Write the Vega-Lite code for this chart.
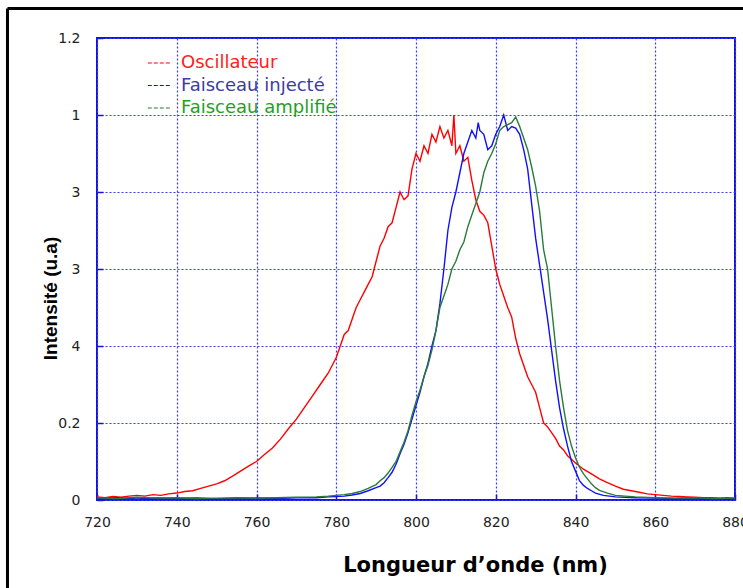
{
  "$schema": "https://vega.github.io/schema/vega-lite/v6.json",
  "width": 638,
  "height": 462,
  "autosize": {"type": "none"},
  "padding": {"left": 97, "top": 38, "right": 8, "bottom": 88},
  "background": "#ffffff",
  "config": {
    "view": {"stroke": "#1414d8", "strokeWidth": 2},
    "font": "Liberation Sans"
  },
  "datasets": {
    "frame": [
      {"x": 697.55, "x2": 697.55, "y": 1.2766, "y2": -0.3},
      {"x": 697.55, "x2": 890, "y": 1.2766, "y2": 1.2766}
    ]
  },
  "layer": [
    {
      "data": {"values": [
        {"s":"Oscillateur","x":720,"y":0.008},{"s":"Oscillateur","x":722,"y":0.006},{"s":"Oscillateur","x":724,"y":0.009},{"s":"Oscillateur","x":726,"y":0.007},{"s":"Oscillateur","x":728,"y":0.01},{"s":"Oscillateur","x":730,"y":0.012},{"s":"Oscillateur","x":732,"y":0.01},{"s":"Oscillateur","x":734,"y":0.014},{"s":"Oscillateur","x":736,"y":0.012},{"s":"Oscillateur","x":738,"y":0.016},{"s":"Oscillateur","x":740,"y":0.018},{"s":"Oscillateur","x":742,"y":0.022},{"s":"Oscillateur","x":744,"y":0.024},{"s":"Oscillateur","x":746,"y":0.03},{"s":"Oscillateur","x":748,"y":0.036},{"s":"Oscillateur","x":750,"y":0.042},{"s":"Oscillateur","x":752,"y":0.05},{"s":"Oscillateur","x":754,"y":0.062},{"s":"Oscillateur","x":756,"y":0.075},{"s":"Oscillateur","x":758,"y":0.088},{"s":"Oscillateur","x":760,"y":0.1},{"s":"Oscillateur","x":762,"y":0.118},{"s":"Oscillateur","x":764,"y":0.135},{"s":"Oscillateur","x":766,"y":0.158},{"s":"Oscillateur","x":768,"y":0.185},{"s":"Oscillateur","x":770,"y":0.21},{"s":"Oscillateur","x":772,"y":0.24},{"s":"Oscillateur","x":774,"y":0.27},{"s":"Oscillateur","x":776,"y":0.3},{"s":"Oscillateur","x":778,"y":0.33},{"s":"Oscillateur","x":780,"y":0.37},{"s":"Oscillateur","x":781,"y":0.4},{"s":"Oscillateur","x":782,"y":0.43},{"s":"Oscillateur","x":783,"y":0.44},{"s":"Oscillateur","x":784,"y":0.47},{"s":"Oscillateur","x":785,"y":0.5},{"s":"Oscillateur","x":786,"y":0.52},{"s":"Oscillateur","x":787,"y":0.54},{"s":"Oscillateur","x":788,"y":0.56},{"s":"Oscillateur","x":789,"y":0.58},{"s":"Oscillateur","x":790,"y":0.62},{"s":"Oscillateur","x":791,"y":0.66},{"s":"Oscillateur","x":792,"y":0.68},{"s":"Oscillateur","x":793,"y":0.71},{"s":"Oscillateur","x":794,"y":0.72},{"s":"Oscillateur","x":795,"y":0.76},{"s":"Oscillateur","x":796,"y":0.8},{"s":"Oscillateur","x":797,"y":0.78},{"s":"Oscillateur","x":798,"y":0.79},{"s":"Oscillateur","x":799,"y":0.86},{"s":"Oscillateur","x":800,"y":0.9},{"s":"Oscillateur","x":801,"y":0.88},{"s":"Oscillateur","x":802,"y":0.92},{"s":"Oscillateur","x":803,"y":0.9},{"s":"Oscillateur","x":804,"y":0.95},{"s":"Oscillateur","x":805,"y":0.93},{"s":"Oscillateur","x":806,"y":0.97},{"s":"Oscillateur","x":807,"y":0.94},{"s":"Oscillateur","x":808,"y":0.96},{"s":"Oscillateur","x":809,"y":0.92},{"s":"Oscillateur","x":809.5,"y":1.0},{"s":"Oscillateur","x":810,"y":0.9},{"s":"Oscillateur","x":811,"y":0.92},{"s":"Oscillateur","x":812,"y":0.88},{"s":"Oscillateur","x":813,"y":0.89},{"s":"Oscillateur","x":814,"y":0.83},{"s":"Oscillateur","x":815,"y":0.78},{"s":"Oscillateur","x":816,"y":0.75},{"s":"Oscillateur","x":817,"y":0.74},{"s":"Oscillateur","x":818,"y":0.72},{"s":"Oscillateur","x":819,"y":0.66},{"s":"Oscillateur","x":820,"y":0.6},{"s":"Oscillateur","x":821,"y":0.56},{"s":"Oscillateur","x":822,"y":0.53},{"s":"Oscillateur","x":823,"y":0.5},{"s":"Oscillateur","x":824,"y":0.475},{"s":"Oscillateur","x":825,"y":0.42},{"s":"Oscillateur","x":826,"y":0.38},{"s":"Oscillateur","x":827,"y":0.35},{"s":"Oscillateur","x":828,"y":0.32},{"s":"Oscillateur","x":829,"y":0.3},{"s":"Oscillateur","x":830,"y":0.28},{"s":"Oscillateur","x":831,"y":0.24},{"s":"Oscillateur","x":832,"y":0.2},{"s":"Oscillateur","x":833,"y":0.19},{"s":"Oscillateur","x":834,"y":0.175},{"s":"Oscillateur","x":835,"y":0.16},{"s":"Oscillateur","x":836,"y":0.14},{"s":"Oscillateur","x":837,"y":0.13},{"s":"Oscillateur","x":838,"y":0.115},{"s":"Oscillateur","x":840,"y":0.096},{"s":"Oscillateur","x":842,"y":0.08},{"s":"Oscillateur","x":844,"y":0.068},{"s":"Oscillateur","x":846,"y":0.055},{"s":"Oscillateur","x":848,"y":0.045},{"s":"Oscillateur","x":850,"y":0.036},{"s":"Oscillateur","x":852,"y":0.028},{"s":"Oscillateur","x":854,"y":0.024},{"s":"Oscillateur","x":856,"y":0.02},{"s":"Oscillateur","x":858,"y":0.016},{"s":"Oscillateur","x":860,"y":0.014},{"s":"Oscillateur","x":862,"y":0.012},{"s":"Oscillateur","x":864,"y":0.01},{"s":"Oscillateur","x":866,"y":0.009},{"s":"Oscillateur","x":868,"y":0.008},{"s":"Oscillateur","x":870,"y":0.007},{"s":"Oscillateur","x":872,"y":0.006},{"s":"Oscillateur","x":874,"y":0.006},{"s":"Oscillateur","x":876,"y":0.005},{"s":"Oscillateur","x":878,"y":0.006},{"s":"Oscillateur","x":880,"y":0.005},

        {"s":"Faisceau injecté","x":720,"y":0.004},{"s":"Faisceau injecté","x":725,"y":0.006},{"s":"Faisceau injecté","x":730,"y":0.003},{"s":"Faisceau injecté","x":735,"y":0.005},{"s":"Faisceau injecté","x":740,"y":0.004},{"s":"Faisceau injecté","x":745,"y":0.005},{"s":"Faisceau injecté","x":750,"y":0.003},{"s":"Faisceau injecté","x":755,"y":0.004},{"s":"Faisceau injecté","x":760,"y":0.005},{"s":"Faisceau injecté","x":765,"y":0.004},{"s":"Faisceau injecté","x":770,"y":0.006},{"s":"Faisceau injecté","x":775,"y":0.006},{"s":"Faisceau injecté","x":778,"y":0.008},{"s":"Faisceau injecté","x":780,"y":0.009},{"s":"Faisceau injecté","x":782,"y":0.01},{"s":"Faisceau injecté","x":784,"y":0.013},{"s":"Faisceau injecté","x":786,"y":0.017},{"s":"Faisceau injecté","x":788,"y":0.024},{"s":"Faisceau injecté","x":790,"y":0.032},{"s":"Faisceau injecté","x":791,"y":0.036},{"s":"Faisceau injecté","x":792,"y":0.045},{"s":"Faisceau injecté","x":793,"y":0.058},{"s":"Faisceau injecté","x":794,"y":0.072},{"s":"Faisceau injecté","x":795,"y":0.093},{"s":"Faisceau injecté","x":796,"y":0.12},{"s":"Faisceau injecté","x":797,"y":0.145},{"s":"Faisceau injecté","x":798,"y":0.175},{"s":"Faisceau injecté","x":799,"y":0.21},{"s":"Faisceau injecté","x":800,"y":0.245},{"s":"Faisceau injecté","x":801,"y":0.28},{"s":"Faisceau injecté","x":802,"y":0.32},{"s":"Faisceau injecté","x":803,"y":0.355},{"s":"Faisceau injecté","x":804,"y":0.4},{"s":"Faisceau injecté","x":805,"y":0.44},{"s":"Faisceau injecté","x":806,"y":0.51},{"s":"Faisceau injecté","x":807,"y":0.6},{"s":"Faisceau injecté","x":808,"y":0.7},{"s":"Faisceau injecté","x":809,"y":0.76},{"s":"Faisceau injecté","x":810,"y":0.8},{"s":"Faisceau injecté","x":811,"y":0.85},{"s":"Faisceau injecté","x":812,"y":0.9},{"s":"Faisceau injecté","x":813,"y":0.93},{"s":"Faisceau injecté","x":814,"y":0.96},{"s":"Faisceau injecté","x":815,"y":0.94},{"s":"Faisceau injecté","x":815.6,"y":0.98},{"s":"Faisceau injecté","x":816,"y":0.96},{"s":"Faisceau injecté","x":817,"y":0.95},{"s":"Faisceau injecté","x":818,"y":0.91},{"s":"Faisceau injecté","x":819,"y":0.92},{"s":"Faisceau injecté","x":820,"y":0.95},{"s":"Faisceau injecté","x":821,"y":0.97},{"s":"Faisceau injecté","x":822,"y":1.0},{"s":"Faisceau injecté","x":823,"y":0.96},{"s":"Faisceau injecté","x":824,"y":0.97},{"s":"Faisceau injecté","x":825,"y":0.966},{"s":"Faisceau injecté","x":826,"y":0.95},{"s":"Faisceau injecté","x":827,"y":0.91},{"s":"Faisceau injecté","x":828,"y":0.86},{"s":"Faisceau injecté","x":829,"y":0.77},{"s":"Faisceau injecté","x":830,"y":0.68},{"s":"Faisceau injecté","x":831,"y":0.61},{"s":"Faisceau injecté","x":832,"y":0.54},{"s":"Faisceau injecté","x":833,"y":0.47},{"s":"Faisceau injecté","x":834,"y":0.39},{"s":"Faisceau injecté","x":835,"y":0.31},{"s":"Faisceau injecté","x":836,"y":0.24},{"s":"Faisceau injecté","x":837,"y":0.185},{"s":"Faisceau injecté","x":838,"y":0.14},{"s":"Faisceau injecté","x":839,"y":0.1},{"s":"Faisceau injecté","x":840,"y":0.075},{"s":"Faisceau injecté","x":841,"y":0.05},{"s":"Faisceau injecté","x":842,"y":0.038},{"s":"Faisceau injecté","x":843,"y":0.03},{"s":"Faisceau injecté","x":844,"y":0.024},{"s":"Faisceau injecté","x":845,"y":0.018},{"s":"Faisceau injecté","x":847,"y":0.012},{"s":"Faisceau injecté","x":850,"y":0.008},{"s":"Faisceau injecté","x":855,"y":0.006},{"s":"Faisceau injecté","x":860,"y":0.005},{"s":"Faisceau injecté","x":865,"y":0.004},{"s":"Faisceau injecté","x":870,"y":0.005},{"s":"Faisceau injecté","x":875,"y":0.004},{"s":"Faisceau injecté","x":880,"y":0.003},

        {"s":"Faisceau amplifié","x":720,"y":0.006},{"s":"Faisceau amplifié","x":725,"y":0.004},{"s":"Faisceau amplifié","x":730,"y":0.007},{"s":"Faisceau amplifié","x":735,"y":0.005},{"s":"Faisceau amplifié","x":740,"y":0.006},{"s":"Faisceau amplifié","x":745,"y":0.004},{"s":"Faisceau amplifié","x":750,"y":0.005},{"s":"Faisceau amplifié","x":755,"y":0.006},{"s":"Faisceau amplifié","x":760,"y":0.005},{"s":"Faisceau amplifié","x":765,"y":0.006},{"s":"Faisceau amplifié","x":770,"y":0.007},{"s":"Faisceau amplifié","x":775,"y":0.008},{"s":"Faisceau amplifié","x":778,"y":0.01},{"s":"Faisceau amplifié","x":780,"y":0.012},{"s":"Faisceau amplifié","x":782,"y":0.014},{"s":"Faisceau amplifié","x":784,"y":0.017},{"s":"Faisceau amplifié","x":786,"y":0.022},{"s":"Faisceau amplifié","x":788,"y":0.03},{"s":"Faisceau amplifié","x":790,"y":0.04},{"s":"Faisceau amplifié","x":791,"y":0.05},{"s":"Faisceau amplifié","x":792,"y":0.058},{"s":"Faisceau amplifié","x":793,"y":0.07},{"s":"Faisceau amplifié","x":794,"y":0.085},{"s":"Faisceau amplifié","x":795,"y":0.1},{"s":"Faisceau amplifié","x":796,"y":0.125},{"s":"Faisceau amplifié","x":797,"y":0.15},{"s":"Faisceau amplifié","x":798,"y":0.18},{"s":"Faisceau amplifié","x":799,"y":0.22},{"s":"Faisceau amplifié","x":800,"y":0.255},{"s":"Faisceau amplifié","x":801,"y":0.285},{"s":"Faisceau amplifié","x":802,"y":0.32},{"s":"Faisceau amplifié","x":803,"y":0.35},{"s":"Faisceau amplifié","x":804,"y":0.39},{"s":"Faisceau amplifié","x":805,"y":0.44},{"s":"Faisceau amplifié","x":806,"y":0.5},{"s":"Faisceau amplifié","x":807,"y":0.53},{"s":"Faisceau amplifié","x":808,"y":0.56},{"s":"Faisceau amplifié","x":809,"y":0.6},{"s":"Faisceau amplifié","x":810,"y":0.62},{"s":"Faisceau amplifié","x":811,"y":0.65},{"s":"Faisceau amplifié","x":812,"y":0.67},{"s":"Faisceau amplifié","x":813,"y":0.71},{"s":"Faisceau amplifié","x":814,"y":0.74},{"s":"Faisceau amplifié","x":815,"y":0.77},{"s":"Faisceau amplifié","x":816,"y":0.8},{"s":"Faisceau amplifié","x":817,"y":0.85},{"s":"Faisceau amplifié","x":818,"y":0.88},{"s":"Faisceau amplifié","x":819,"y":0.9},{"s":"Faisceau amplifié","x":820,"y":0.925},{"s":"Faisceau amplifié","x":821,"y":0.96},{"s":"Faisceau amplifié","x":822,"y":0.97},{"s":"Faisceau amplifié","x":823,"y":0.975},{"s":"Faisceau amplifié","x":824,"y":0.98},{"s":"Faisceau amplifié","x":825,"y":0.995},{"s":"Faisceau amplifié","x":826,"y":0.97},{"s":"Faisceau amplifié","x":827,"y":0.94},{"s":"Faisceau amplifié","x":828,"y":0.91},{"s":"Faisceau amplifié","x":829,"y":0.865},{"s":"Faisceau amplifié","x":830,"y":0.815},{"s":"Faisceau amplifié","x":831,"y":0.75},{"s":"Faisceau amplifié","x":832,"y":0.65},{"s":"Faisceau amplifié","x":833,"y":0.6},{"s":"Faisceau amplifié","x":834,"y":0.5},{"s":"Faisceau amplifié","x":835,"y":0.4},{"s":"Faisceau amplifié","x":836,"y":0.31},{"s":"Faisceau amplifié","x":837,"y":0.24},{"s":"Faisceau amplifié","x":838,"y":0.18},{"s":"Faisceau amplifié","x":839,"y":0.14},{"s":"Faisceau amplifié","x":840,"y":0.11},{"s":"Faisceau amplifié","x":841,"y":0.085},{"s":"Faisceau amplifié","x":842,"y":0.068},{"s":"Faisceau amplifié","x":843,"y":0.055},{"s":"Faisceau amplifié","x":844,"y":0.042},{"s":"Faisceau amplifié","x":845,"y":0.032},{"s":"Faisceau amplifié","x":846,"y":0.025},{"s":"Faisceau amplifié","x":848,"y":0.018},{"s":"Faisceau amplifié","x":850,"y":0.012},{"s":"Faisceau amplifié","x":855,"y":0.008},{"s":"Faisceau amplifié","x":860,"y":0.006},{"s":"Faisceau amplifié","x":865,"y":0.005},{"s":"Faisceau amplifié","x":870,"y":0.006},{"s":"Faisceau amplifié","x":875,"y":0.004},{"s":"Faisceau amplifié","x":880,"y":0.005}
      ]},
      "mark": {"type": "line", "strokeWidth": 1.4},
      "encoding": {
        "x": {
          "field": "x", "type": "quantitative",
          "scale": {"domain": [720, 880], "nice": false},
          "axis": {
            "values": [720, 740, 760, 780, 800, 820, 840, 860, 880],
            "title": "Longueur d’onde (nm)",
            "titleFont": "DejaVu Sans", "titleFontSize": 21, "titleFontWeight": "bold", "titleColor": "#000000",
            "titleX": 378, "titleY": 65, "titleBaseline": "middle",
            "labelFont": "DejaVu Sans", "labelFontSize": 14, "labelColor": "#222222",
            "labelPadding": 21, "labelFlush": false,
            "domain": false,
            "tickColor": "#1414d8", "tickSize": -6, "tickWidth": 1.5,
            "grid": true, "gridColor": "#3a3aff", "gridDash": [2, 2], "gridWidth": 1.2, "gridOpacity": 1
          }
        },
        "y": {
          "field": "y", "type": "quantitative",
          "scale": {"domain": [0, 1.2], "nice": false},
          "axis": {
            "values": [0, 0.2, 0.4, 0.6, 0.8, 1, 1.2],
            "labelExpr": "datum.value == 0.8 ? '3' : datum.value == 0.6 ? '3' : datum.value == 0.4 ? '4' : datum.value == 0.2 ? '0.2' : datum.value == 1.2 ? '1.2' : datum.value == 1 ? '1' : '0'",
            "title": "Intensité (u.a)",
            "titleFont": "Liberation Sans", "titleFontSize": 19, "titleFontWeight": "bold", "titleColor": "#000000",
            "titleX": -47, "titleY": 260, "titleBaseline": "middle", "titleAngle": -90,
            "labelFont": "DejaVu Sans", "labelFontSize": 14, "labelColor": "#222222",
            "labelPadding": 23,
            "domain": false,
            "tickColor": "#1414d8", "tickSize": -6, "tickWidth": 1.5,
            "grid": true, "gridColor": "#3a3aff", "gridDash": [2, 2], "gridWidth": 1.2, "gridOpacity": 1
          }
        },
        "color": {
          "field": "s", "type": "nominal",
          "scale": {
            "domain": ["Oscillateur", "Faisceau injecté", "Faisceau amplifié"],
            "range": ["#ff0000", "#1010ff", "#2a7a3a"]
          },
          "legend": {
            "orient": "none", "legendX": 50, "legendY": 13,
            "title": null,
            "symbolType": "stroke", "symbolSize": 500, "symbolStrokeWidth": 1.2, "symbolDash": [4, 2],
            "labelFont": "DejaVu Sans", "labelFontSize": 18, "labelOffset": 10,
            "rowPadding": 1.5, "padding": 0,
            "labelLimit": 300,
            "encode": {
              "labels": {"update": {"fill": {"signal": "datum.value === 'Oscillateur' ? '#ff2020' : datum.value === 'Faisceau injecté' ? '#3c3ca0' : '#1fa01f'"}}},
              "symbols": {"update": {"stroke": {"signal": "datum.value === 'Oscillateur' ? '#ff2020' : datum.value === 'Faisceau injecté' ? '#3c3ca0' : '#1fa01f'"}}}
            }
          }
        }
      }
    },
    {
      "data": {"name": "frame"},
      "mark": {"type": "rule", "color": "#000000", "strokeWidth": 3, "clip": false},
      "encoding": {
        "x": {"field": "x", "type": "quantitative"},
        "x2": {"field": "x2"},
        "y": {"field": "y", "type": "quantitative"},
        "y2": {"field": "y2"}
      }
    }
  ]
}
